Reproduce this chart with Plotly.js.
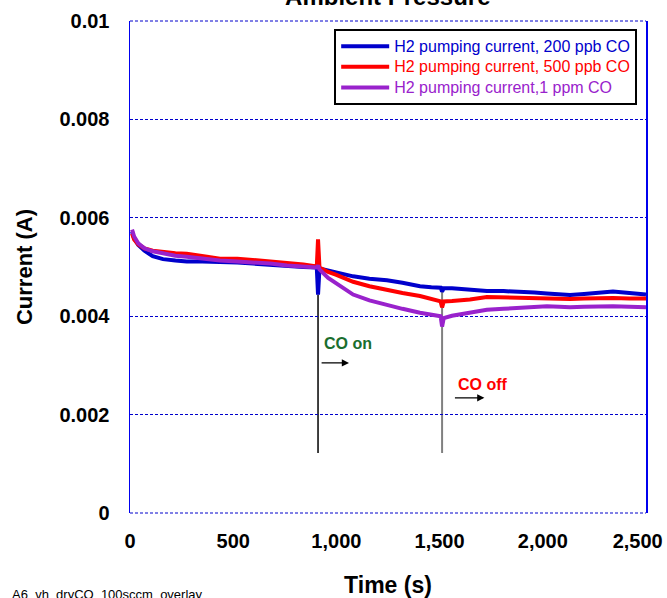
<!DOCTYPE html>
<html>
<head>
<meta charset="utf-8">
<script src="https://cdn.plot.ly/plotly-3.0.1.min.js"></script>
<style>html,body{margin:0;padding:0;background:#fff;}#chart{width:667px;height:598px;}</style>
</head>
<body>
<div id="chart"></div>
<script>
// Time (s)
var time = [10, 20, 40, 70, 110, 160, 220, 275, 350, 436, 520, 596, 680, 760, 840, 905, 911, 918, 960, 1000, 1081, 1160, 1245, 1320, 1405, 1460, 1505, 1512, 1520, 1560, 1647, 1729, 1810, 1890, 1960, 2020, 2080, 2132, 2200, 2270, 2340, 2420, 2500];
// H2 pumping current, 200 ppb CO (A)
var co200ppb = [0.00572, 0.00558, 0.00545, 0.00533, 0.00522, 0.00516, 0.00513, 0.00511, 0.00511, 0.00511, 0.00509, 0.00507, 0.00504, 0.00501, 0.00500, 0.00499, 0.00444, 0.00497, 0.00493, 0.00490, 0.00481, 0.00476, 0.00473, 0.00468, 0.00461, 0.00459, 0.00458, 0.00450, 0.00457, 0.00457, 0.00454, 0.00451, 0.00451, 0.00450, 0.00448, 0.00446, 0.00444, 0.00443, 0.00445, 0.00448, 0.00450, 0.00447, 0.00444];
// H2 pumping current, 500 ppb CO (A)
var co500ppb = [0.00568, 0.00556, 0.00546, 0.00538, 0.00533, 0.00530, 0.00528, 0.00527, 0.00522, 0.00517, 0.00517, 0.00514, 0.00511, 0.00509, 0.00505, 0.00501, 0.00556, 0.00499, 0.00490, 0.00484, 0.00470, 0.00461, 0.00453, 0.00447, 0.00441, 0.00435, 0.00430, 0.00418, 0.00430, 0.00431, 0.00434, 0.00439, 0.00438, 0.00436, 0.00436, 0.00436, 0.00435, 0.00435, 0.00436, 0.00437, 0.00437, 0.00436, 0.00436];
// H2 pumping current, 1 ppm CO (A)
var co1ppm = [0.00576, 0.00562, 0.00548, 0.00538, 0.00532, 0.00527, 0.00523, 0.00521, 0.00517, 0.00513, 0.00511, 0.00510, 0.00507, 0.00503, 0.00501, 0.00499, 0.00503, 0.00495, 0.00478, 0.00467, 0.00444, 0.00432, 0.00422, 0.00415, 0.00407, 0.00403, 0.00400, 0.00379, 0.00396, 0.00401, 0.00408, 0.00413, 0.00415, 0.00417, 0.00419, 0.00420, 0.00419, 0.00418, 0.00419, 0.00420, 0.00420, 0.00419, 0.00418];

var seriesNames = ["H2 pumping current, 200 ppb CO", "H2 pumping current, 500 ppb CO", "H2 pumping current,1 ppm CO"];
var xTickVals = [0, 500, 1000, 1500, 2000, 2500];
var xTickText = ["0", "500", "1,000", "1,500", "2,000", "2,500\u00a0\u00a0\u00a0"];
var yTickVals = [0, 0.002, 0.004, 0.006, 0.008, 0.01];
var yTickText = ["0", "0.002", "0.004", "0.006", "0.008", "0.01"];
// CO switched on / off (s)
var coOnTime = 911;
var coOffTime = 1512;

var FONT = "Arial, 'Liberation Sans', sans-serif";
var colors = ["#0000CC", "#FF0000", "#9922CC"];
var series = [co200ppb, co500ppb, co1ppm];

var traces = series.map(function (s, i) {
  return {
    x: time, y: s, type: "scatter", mode: "lines",
    name: '<span style="color:' + colors[i] + ';font-size:16px">' + seriesNames[i] + '</span>',
    line: {color: colors[i], width: 4}
  };
});

var gridDash = "3px,2px";

var layout = {
  width: 667, height: 598,
  margin: {l: 130, r: 21, t: 21, b: 85},
  paper_bgcolor: "#fff", plot_bgcolor: "#fff",
  font: {family: FONT, color: "#000"},
  showlegend: true,
  title: {
    text: "Ambient Pressure", font: {size: 24, weight: "bold", color: "#000"},
    x: 0.5814, xref: "container", xanchor: "center",
    y: 0.992, yref: "container", yanchor: "bottom"
  },
  xaxis: {
    range: [0, 2500], tickvals: xTickVals, ticktext: xTickText,
    showgrid: false, zeroline: false, showline: false,
    ticks: "outside", ticklen: 10, tickcolor: "rgba(0,0,0,0)",
    ticklabeloverflow: "allow",
    tickfont: {size: 20, weight: "bold", color: "#000"},
    title: {text: "Time (s)", font: {size: 23, weight: "bold", color: "#000"}, standoff: 32},
    automargin: false
  },
  yaxis: {
    range: [0, 0.01], tickvals: yTickVals, ticktext: yTickText,
    showgrid: true, gridcolor: "#0000CC", gridwidth: 1, griddash: gridDash,
    zeroline: false, showline: true, mirror: true, linecolor: "#0000EE", linewidth: 1.5,
    ticks: "outside", ticklen: 15, tickcolor: "rgba(0,0,0,0)",
    tickfont: {size: 20, weight: "bold", color: "#000"},
    title: {text: "Current (A)", font: {size: 22, weight: "bold", color: "#000"}, standoff: 20},
    automargin: false
  },
  legend: {
    x: 0.3957, y: 0.9837, xanchor: "left", yanchor: "top",
    bgcolor: "#fff", bordercolor: "#000", borderwidth: 2,
    font: {size: 13.5, family: FONT}, itemwidth: 48
  },
  shapes: [
    {type: "line", xref: "paper", yref: "paper", x0: 0, x1: 1, y0: 1, y1: 1, line: {color: "#0000CC", width: 1, dash: gridDash}, layer: "below"},
    {type: "line", xref: "paper", yref: "paper", x0: 0, x1: 1, y0: 0, y1: 0, line: {color: "#0000CC", width: 1, dash: gridDash}, layer: "below"},
    {type: "line", xref: "x", yref: "y", x0: coOnTime, x1: coOnTime, y0: 0.00122, y1: 0.00444, line: {color: "#000", width: 1.5}, layer: "below"},
    {type: "line", xref: "x", yref: "y", x0: coOffTime, x1: coOffTime, y0: 0.00122, y1: 0.0045, line: {color: "#808080", width: 2}, layer: "below"}
  ],
  annotations: [
    {x: coOnTime + 145, y: 0.00345, xref: "x", yref: "y", text: "CO on", showarrow: false,
     font: {size: 16, weight: "bold", color: "#1A6E2E"}},
    {x: coOnTime + 150, y: 0.00305, ax: coOnTime + 10, ay: 0.00305, axref: "x", ayref: "y", xref: "x", yref: "y",
     text: "", showarrow: true, arrowhead: 2, arrowsize: 1.2, arrowwidth: 1.2, arrowcolor: "#000"},
    {x: coOffTime + 198, y: 0.00262, xref: "x", yref: "y", text: "CO off", showarrow: false,
     font: {size: 16, weight: "bold", color: "#FF0000"}},
    {x: coOffTime + 205, y: 0.00234, ax: coOffTime + 55, ay: 0.00234, axref: "x", ayref: "y", xref: "x", yref: "y",
     text: "", showarrow: true, arrowhead: 2, arrowsize: 1.2, arrowwidth: 1.2, arrowcolor: "#000"},
    {x: -0.2328, y: -0.146, xref: "paper", yref: "paper", xanchor: "left", yanchor: "top",
     text: "A6_vh_dryCO_100sccm_overlay", showarrow: false, font: {size: 13, color: "#000"}}
  ]
};

Plotly.newPlot("chart", traces, layout, {displayModeBar: false, staticPlot: true});
</script>
</body>
</html>
